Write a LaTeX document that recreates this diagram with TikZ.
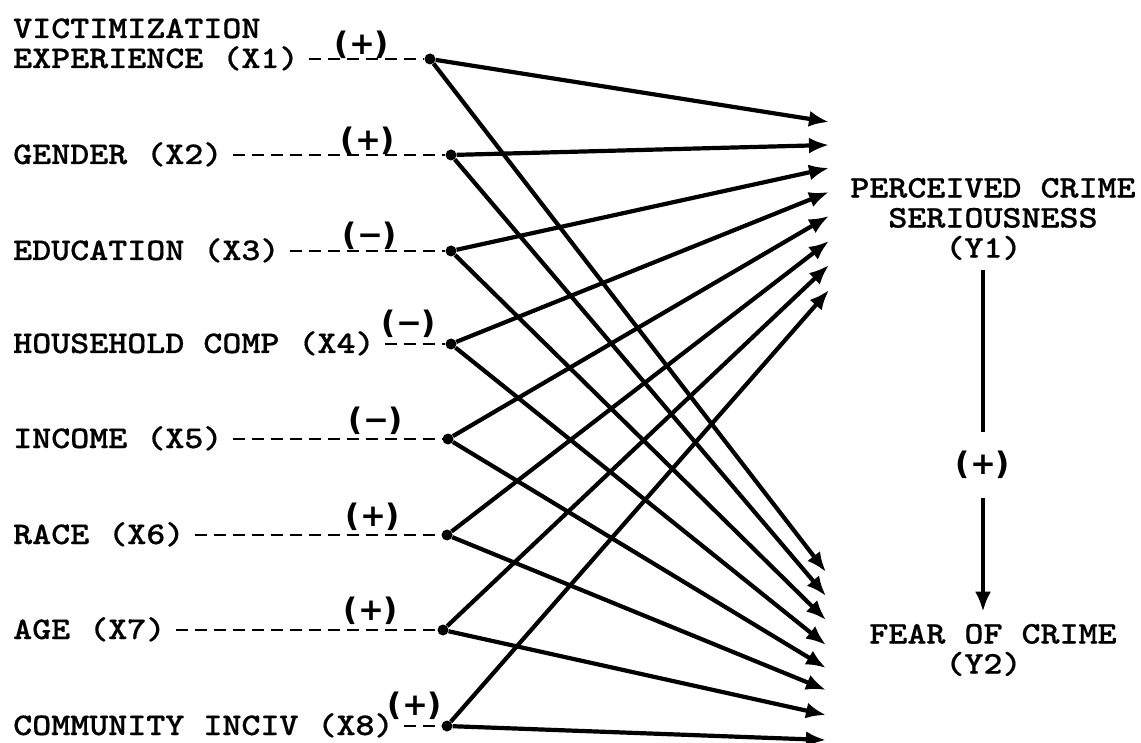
\documentclass[tikz,border=0pt]{standalone}
\usepackage{fontspec}
\newfontfamily\signfont{DejaVu Sans}
\newfontfamily\twfam[FakeStretch=1.15,FakeBold=0.5]{lmmonolt10-bold.otf}
\usetikzlibrary{arrows.meta}
\newcommand\twfont{\twfam\fontsize{31.5}{30}\selectfont}
\begin{document}
\begin{tikzpicture}[x=1pt,y=-1pt,
  lbl/.style={font=\twfont, inner sep=0pt, anchor=base west, align=left},
  ylbl/.style={font=\twfont, inner sep=0pt, align=left},
  sign/.style={font=\signfont\bfseries\fontsize{31}{31}\selectfont, inner sep=0pt},
  dot/.style={circle, fill=black, inner sep=0pt, minimum size=11pt},
  dashline/.style={line width=2.4pt, dash pattern=on 12pt off 7pt},
  arr/.style={line width=4.2pt, -{Latex[length=20pt,width=16pt]}},
  vline/.style={line width=4.2pt},
]
\useasboundingbox (0,0) rectangle (1141,743);

% source labels
\node[lbl] (x1) at (13,68) {VICTIMIZATION\\EXPERIENCE (X1)};
\node[lbl] (x2) at (13,164) {GENDER (X2)};
\node[lbl] (x3) at (13,260) {EDUCATION (X3)};
\node[lbl] (x4) at (13,353) {HOUSEHOLD COMP (X4)};
\node[lbl] (x5) at (13,448) {INCOME (X5)};
\node[lbl] (x6) at (13,544) {RACE (X6)};
\node[lbl] (x7) at (13,639) {AGE (X7)};
\node[lbl] (x8) at (13,735) {COMMUNITY INCIV (X8)};

% dots
\node[dot] (d1) at (430,59) {};
\node[dot] (d2) at (451,155) {};
\node[dot] (d3) at (451,251) {};
\node[dot] (d4) at (451,344) {};
\node[dot] (d5) at (448,439) {};
\node[dot] (d6) at (447,535) {};
\node[dot] (d7) at (443,630) {};
\node[dot] (d8) at (447,726) {};

% dashed leaders
\foreach \i in {1,...,8} {
  \draw[dashline] ([xshift=10pt]x\i.east |- d\i) -- (d\i);
}

% signs
\node[sign] (s1) at (362,45) {(+)};
\node[sign] (s2) at (368,141) {(+)};
\node[sign] (s3) at (370,236) {(−)};
\node[sign] (s4) at (409,324) {(−)};
\node[sign] (s5) at (376,421) {(−)};
\node[sign] (s6) at (373,517) {(+)};
\node[sign] (s7) at (371,611) {(+)};
\node[sign] (s8) at (415,706) {(+)};

% targets
\coordinate (a1) at (829,122);
\coordinate (a2) at (829,145);
\coordinate (a3) at (829,168);
\coordinate (a4) at (829,192);
\coordinate (a5) at (829,216);
\coordinate (a6) at (829,241);
\coordinate (a7) at (829,265);
\coordinate (a8) at (829,290);
\coordinate (b1) at (826,572);
\coordinate (b2) at (826,596);
\coordinate (b3) at (826,620);
\coordinate (b4) at (826,645);
\coordinate (b5) at (826,668);
\coordinate (b6) at (826,690);
\coordinate (b7) at (826,715);
\coordinate (b8) at (826,740);

\foreach \i in {1,...,8} {
  \draw[arr] (d\i) -- (a\i);
  \draw[arr] (d\i) -- (b\i);
}

% outcomes
\node[ylbl] (y1) at (993,219) {PERCEIVED CRIME\\\phantom{PE}SERIOUSNESS\\\phantom{PERCE}(Y1)};
\node[ylbl] (y2) at (993,650) {FEAR OF CRIME\\\phantom{FEAR}(Y2)};
\node[sign, minimum height=65pt] (p) at (983,465) {(+)};
\draw[vline] ([yshift=-10pt]y1.south -| p.north) -- (p.north);
\draw[arr] (p.south) -- ([yshift=12pt]y2.north -| p.south);
\end{tikzpicture}
\end{document}
